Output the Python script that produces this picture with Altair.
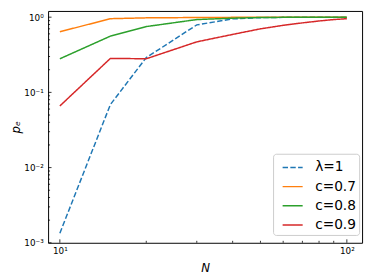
import altair as alt
import pandas as pd

# ---- data ----
N = [10, 15, 20, 30, 40, 50, 60, 70, 80, 90, 100]
lam1 = [0.00134, 0.069, 0.29, 0.79, 0.95, 0.985, 0.995, 0.998, 0.999, 1.0, 1.0]
c07 = [0.64, 0.955, 0.98, 0.99, 0.995, 0.998, 1.0, 1.0, 1.0, 1.0, 1.0]
c08 = [0.28, 0.56, 0.75, 0.93, 0.97, 0.99, 0.995, 0.998, 1.0, 1.0, 1.0]
c09 = [0.066, 0.283, 0.28, 0.47, 0.59, 0.70, 0.78, 0.84, 0.89, 0.93, 0.955]

series_names = ["λ=1", "c=0.7", "c=0.8", "c=0.9"]
series_vals = [lam1, c07, c08, c09]
colors = ["#1f77b4", "#ff7f0e", "#2ca02c", "#d62728"]
dashes = [[5.5, 2.4], [1, 0], [1, 0], [1, 0]]

x_major = [10, 100]
x_minor = [20, 30, 40, 50, 60, 70, 80, 90]
y_major = [0.001, 0.01, 0.1, 1.0]
y_minor = [k * 10.0 ** e for e in (-3, -2, -1) for k in range(2, 10)]

rows = []
for name, vals in zip(series_names, series_vals):
    for n, v in zip(N, vals):
        rows.append({"N": n, "pe": v, "series": name})
df = pd.DataFrame(rows)

W, H = 321, 237
xscale = alt.Scale(type="log", domain=[9.1, 113], nice=False)
yscale = alt.Scale(type="log", domain=[0.001, 1.21], nice=False)

x_axis = alt.Axis(
    title="N", values=x_major, grid=False, domain=False, ticks=False,
    labelExpr="datum.value >= 50 ? '10²' : '10¹'",
    labelFontSize=9, labelPadding=4, titleFontSize=12, titleFontStyle="italic",
    titleFontWeight="normal", titlePadding=7,
)
y_axis = alt.Axis(
    title="pₑ", values=y_major, grid=False, domain=False, ticks=False,
    labelExpr="datum.value >= 0.5 ? '10⁰' : datum.value >= 0.05 ? '10⁻¹' : datum.value >= 0.005 ? '10⁻²' : '10⁻³'",
    labelFontSize=9, labelPadding=5, titleFontSize=12, titleFontStyle="italic",
    titleFontWeight="normal", titlePadding=1,
)

leg = alt.Legend(
    title=None, orient="none", legendX=230, legendY=146,
    symbolType="stroke", symbolSize=420, symbolStrokeWidth=1.5,
    labelFontSize=14, labelOffset=12, symbolOffset=6,
    rowPadding=1.6, padding=3, fillColor="white", strokeColor="#cccccc",
    cornerRadius=3,
)

lines = alt.Chart(df).mark_line(strokeWidth=1.5).encode(
    x=alt.X("N:Q", scale=xscale, axis=x_axis),
    y=alt.Y("pe:Q", scale=yscale, axis=y_axis),
    color=alt.Color(
        "series:N",
        scale=alt.Scale(domain=series_names, range=colors),
        sort=series_names,
        legend=leg,
    ),
    strokeDash=alt.StrokeDash(
        "series:N",
        scale=alt.Scale(domain=series_names, range=dashes),
        sort=series_names,
        legend=leg,
    ),
    order=alt.Order("N:Q"),
)

def xticks(vals, length):
    return alt.Chart(pd.DataFrame({"N": vals})).mark_rule(color="black", strokeWidth=0.8).encode(
        x=alt.X("N:Q", scale=xscale, axis=x_axis),
        y=alt.value(H), y2=alt.value(H - length),
    )

def yticks(vals, length):
    return alt.Chart(pd.DataFrame({"pe": vals})).mark_rule(color="black", strokeWidth=0.8).encode(
        y=alt.Y("pe:Q", scale=yscale, axis=y_axis),
        x=alt.value(0), x2=alt.value(length),
    )

chart = alt.layer(
    lines,
    xticks(x_major, 3.5), xticks(x_minor, 2),
    yticks(y_major, 3.5), yticks(y_minor, 2),
).properties(
    width=W, height=H,
    autosize=alt.AutoSizeParams(type="none"),
    padding={"left": 41, "top": 0, "right": 4, "bottom": 34},
).configure(
    font="DejaVu Sans",
).configure_view(
    stroke="black", strokeWidth=1,
).configure_axis(
    labelColor="black", titleColor="black", labelFont="DejaVu Sans", titleFont="DejaVu Sans",
).configure_legend(
    labelFont="DejaVu Sans", labelColor="black",
)

chart.save("out.html", embed_options={"renderer": "svg", "actions": False})
